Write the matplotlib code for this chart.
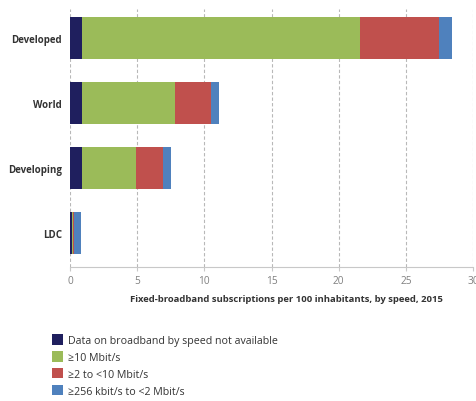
import matplotlib
matplotlib.use('Agg')
import matplotlib.pyplot as plt
from matplotlib.patches import Patch

plt.rcParams['font.family'] = ['Open Sans', 'DejaVu Sans']

# Données (abonnements pour 100 habitants, 2015)
regions = ['Developed', 'World', 'Developing', 'LDC']
not_available = [0.9, 0.9, 0.9, 0.15]
above_10 = [20.7, 6.9, 4.05, 0.07]
from_2_to_10 = [5.9, 2.7, 1.95, 0.06]
from_256k_to_2 = [0.9, 0.6, 0.65, 0.57]

series = [not_available, above_10, from_2_to_10, from_256k_to_2]
labels = ['Data on broadband by speed not available', '≥10 Mbit/s',
          '≥2 to <10 Mbit/s', '≥256 kbit/s to <2 Mbit/s']
colors = ['#1f1f5e', '#9bbb59', '#c0504d', '#4f81bd']

fig = plt.figure(figsize=(4.77, 4.02), dpi=100)
ax = fig.add_axes([70 / 477, 1 - 268 / 402, 403 / 477, 258 / 402])

ys = list(range(len(regions)))
left = [0] * len(regions)
for vals, col in zip(series, colors):
    ax.barh(ys, vals, left=left, height=0.65, color=col, zorder=3)
    left = [l + v for l, v in zip(left, vals)]

ax.set_xlim(0, 30)
ax.set_ylim(3.52, -0.45)
ax.set_xticks(range(0, 31, 5))
ax.set_yticks(ys)
ax.set_yticklabels(regions, fontsize=7, fontweight='bold', color='#333333')

# Cadrillage
ax.grid(axis='x', linestyle=(0, (3, 2)), color='#b8b8b8', linewidth=0.8, zorder=0)
for s in ['top', 'right', 'left']:
    ax.spines[s].set_visible(False)
ax.spines['bottom'].set_color('#c8c8c8')
ax.tick_params(axis='y', length=0, pad=6)
ax.tick_params(axis='x', length=3, color='#c8c8c8', labelsize=7.3, labelcolor='#808080', pad=3)

ax.set_xlabel('Fixed-broadband subscriptions per 100 inhabitants, by speed, 2015',
              fontsize=6.8, fontweight='bold', color='#333333')
ax.xaxis.set_label_coords((286 - 70) / 403, -0.105)

handles = [Patch(facecolor=c) for c in colors]
fig.legend(handles, labels, loc='upper left', bbox_to_anchor=(47 / 477, 1 - 330 / 402),
           frameon=False, fontsize=7.7, labelcolor='#333333', handlelength=1.0,
           handleheight=1.1, handletextpad=0.45, labelspacing=0.48, borderpad=0)

plt.savefig('out.png', dpi=100)
plt.close()
